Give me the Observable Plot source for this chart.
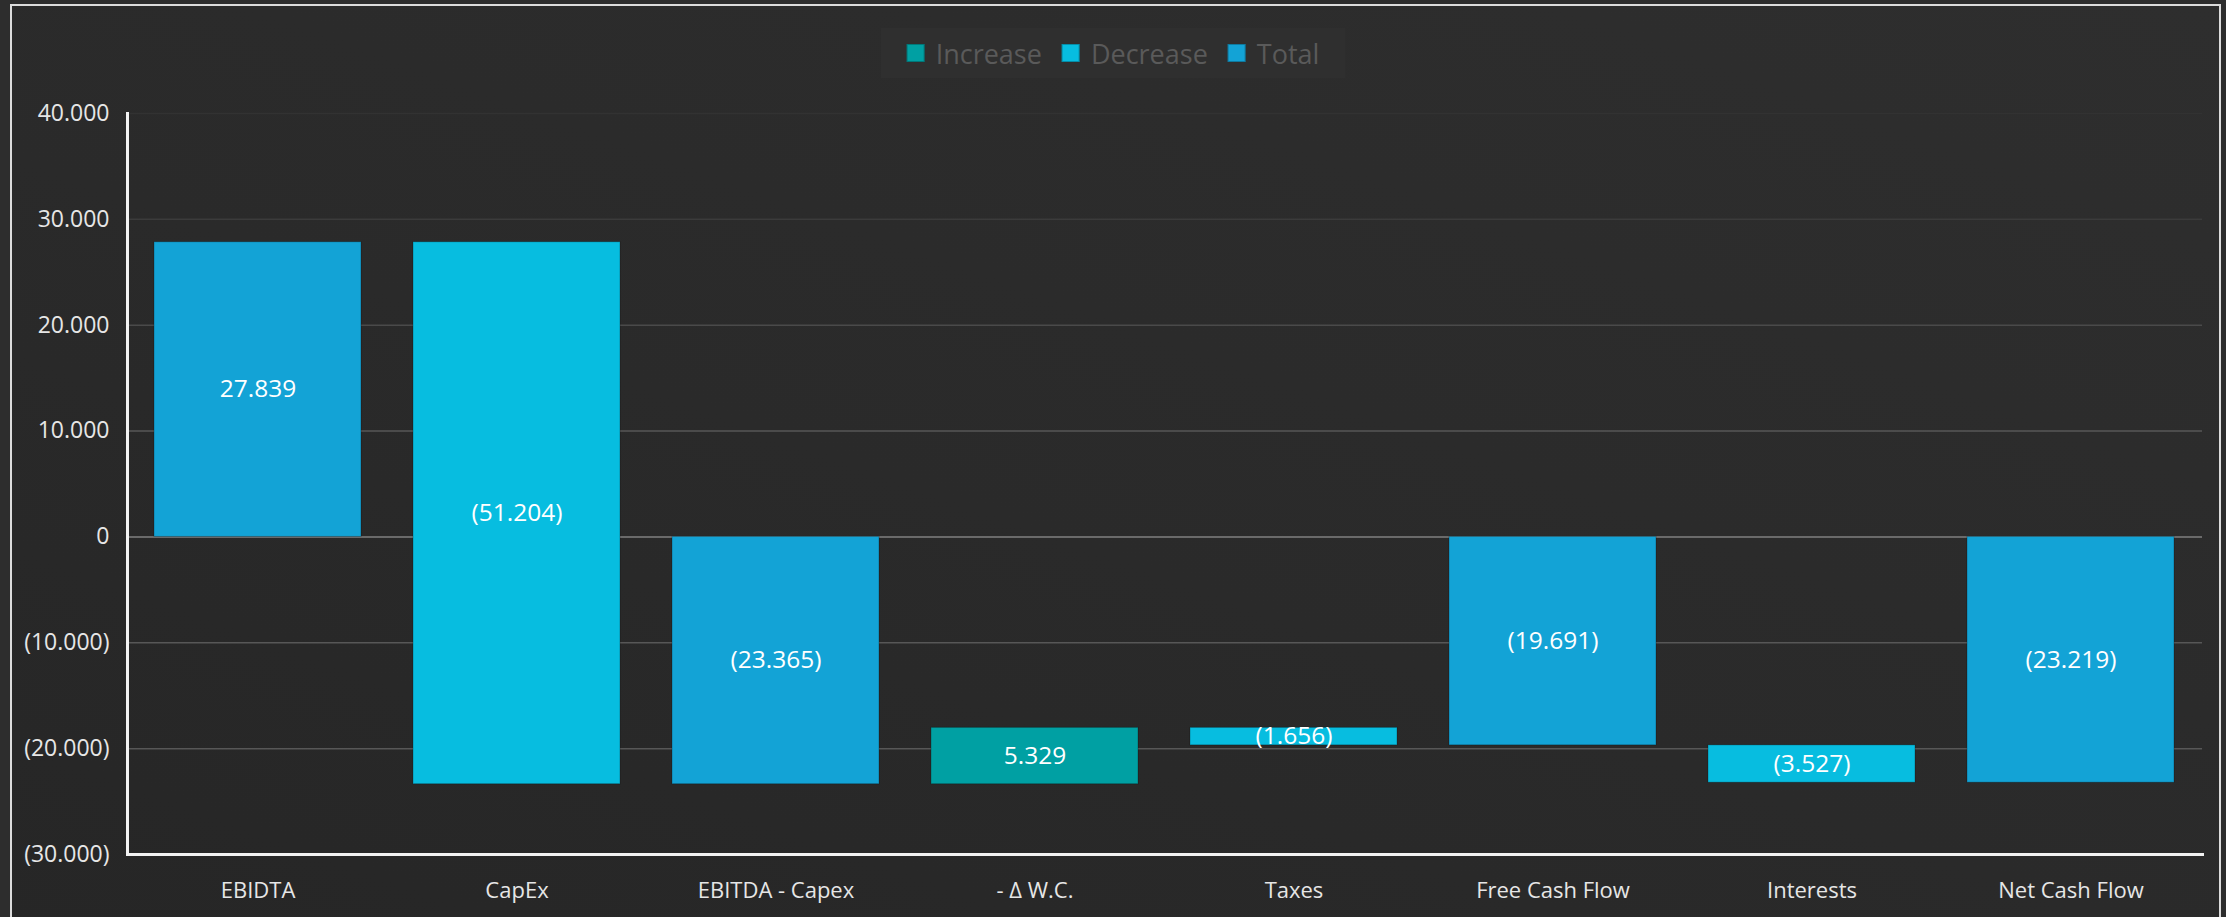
<!DOCTYPE html>
<html>
<head>
<meta charset="utf-8">
<script src="https://cdn.jsdelivr.net/npm/d3@7"></script>
<script src="https://cdn.jsdelivr.net/npm/@observablehq/plot@0.6"></script>
<style>
  html, body { margin: 0; padding: 0; background: #2d2d2d; width: 2226px; height: 917px; overflow: hidden; font-family: "Open Sans", "Noto Sans", sans-serif; }
  #frame { position: absolute; left: 10px; top: 4px; width: 2207px; height: 930px; border: 2px solid #dcdcdc; border-bottom: none;
    background: linear-gradient(20deg, #262626 0%, #2a2a2a 45%, #2e2e2e 100%); }
  #chart { position: absolute; left: 0; top: 0; width: 2226px; height: 917px; }
  #legendRow { height: 80px; position: relative; }
  #legend { position: absolute; top: 28px; left: 50%; transform: translateX(-50%); height: 50px; padding: 0 16px;
    display: flex; align-items: center; background: #2f2f2f; }
  .item { display: flex; align-items: center; margin: 0 10px; }
  .sw { width: 18px; height: 18px; margin-right: 11px; box-sizing: border-box; border: 1px solid rgba(0,0,0,0.25); }
  .lab { font-size: 27px; color: #5a5a5a; line-height: 1; }
  svg { display: block; }
</style>
</head>
<body>
<div id="frame"></div>
<div id="chart">
  <div id="legendRow"><div id="legend"></div></div>
</div>
<script>
// ---- data ----
const categories = ["EBIDTA", "CapEx", "EBITDA - Capex", "- \u0394 W.C.", "Taxes", "Free Cash Flow", "Interests", "Net Cash Flow"];
const values = [27839, -51204, -23365, 5329, -1656, -19691, -3527, -23219];
const kinds = ["Total", "Decrease", "Total", "Increase", "Decrease", "Total", "Decrease", "Total"];
const legendKinds = ["Increase", "Decrease", "Total"];
const kindColors = ["#00a0a3", "#07bde0", "#13a3d6"];
const yTicks = [-30000, -20000, -10000, 0, 10000, 20000, 30000, 40000];

// ---- build waterfall rows ----
let running = 0;
const rows = categories.map((c, i) => {
  const v = values[i];
  let y1, y2;
  if (kinds[i] === "Total") { y1 = 0; y2 = v; running = v; }
  else { y1 = running; y2 = running + v; running = y2; }
  return { cat: c, value: v, kind: kinds[i], y1, y2, mid: (y1 + y2) / 2 };
});

const locale = d3.formatLocale({ decimal: ",", thousands: ".", grouping: [3], currency: ["", ""] });
const f = locale.format(",.0f");
const fmt = v => v < 0 ? `(${f(-v)})` : f(v);

// ---- legend ----
const legend = document.getElementById("legend");
legendKinds.forEach((k, i) => {
  const it = document.createElement("div");
  it.className = "item";
  it.innerHTML = `<div class="sw" style="background:${kindColors[i]}"></div><span class="lab">${k}</span>`;
  legend.appendChild(it);
});

const gridColor = v => v === 40000 ? "#323232" : v === 30000 ? "#3b3b3b" : v === 20000 ? "#4a4a4a" : "#575757";

const plot = Plot.plot({
  width: 2226,
  height: 837,
  marginTop: 33,
  marginBottom: 63,
  marginLeft: 127,
  marginRight: 24,
  style: { background: "transparent", fontFamily: "'Open Sans', 'Noto Sans', sans-serif", color: "#e8e8e8", overflow: "visible" },
  x: { domain: categories, paddingInner: 0.2, paddingOuter: 0.1, label: null },
  y: { domain: [-30000, 40000], label: null },
  color: { domain: legendKinds, range: kindColors, legend: false },
  marks: [
    Plot.ruleY(yTicks.filter(v => v !== 0 && v !== -30000), { y: d => d, stroke: d => gridColor(d), strokeWidth: 1.5 }),
    Plot.ruleY([0], { stroke: "#6a6a6a", strokeWidth: 2 }),
    Plot.barY(rows, { x: "cat", y1: "y1", y2: "y2", fill: "kind", stroke: "rgba(0,0,0,0.25)", strokeWidth: 1 }),
    Plot.text(rows, { x: "cat", y: "mid", text: d => fmt(d.value), fill: "#ffffff", fontSize: 24.5 }),
    Plot.axisY({ ticks: yTicks, tickFormat: fmt, tickSize: 0, tickPadding: 18, fontSize: 23, fill: "#e6e6e6", label: null }),
    Plot.axisX({ tickSize: 0, tickPadding: 28, fontSize: 22, fill: "#e6e6e6", label: null }),
    Plot.frame({ anchor: "left", stroke: "#f2f2f2", strokeWidth: 3 }),
    Plot.frame({ anchor: "bottom", stroke: "#f2f2f2", strokeWidth: 3 })
  ]
});
document.getElementById("chart").appendChild(plot);
</script>
</body>
</html>
